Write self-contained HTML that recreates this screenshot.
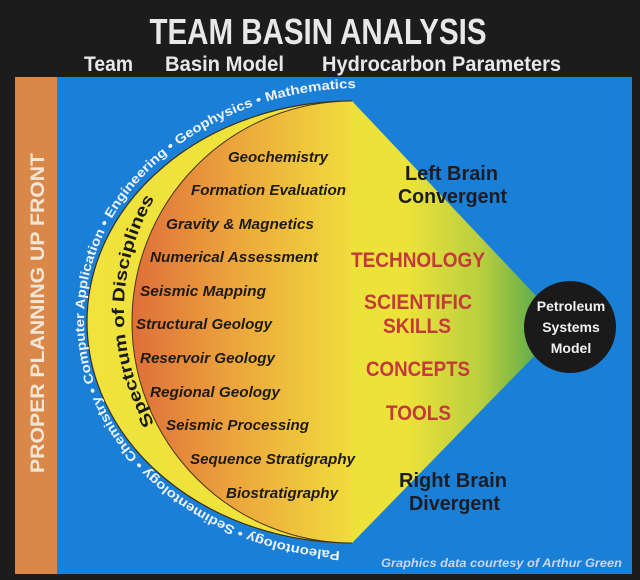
<!DOCTYPE html>
<html><head><meta charset="utf-8"><style>
html,body{margin:0;padding:0;background:#1c1c1c;}
svg{display:block;}
text{font-family:"Liberation Sans",sans-serif;font-weight:bold;}
</style></head><body>
<svg width="640" height="580" viewBox="0 0 640 580" xmlns="http://www.w3.org/2000/svg">
<defs>
<linearGradient id="yg" x1="0" y1="0" x2="1" y2="0" gradientUnits="objectBoundingBox">
<stop offset="0" stop-color="#f1e23c"/>
<stop offset="0.7" stop-color="#ece23a"/>
<stop offset="0.86" stop-color="#b9cf3e"/>
<stop offset="1" stop-color="#55a84c"/>
</linearGradient>
<linearGradient id="og" x1="130" y1="0" x2="360" y2="0" gradientUnits="userSpaceOnUse">
<stop offset="0" stop-color="#de6d3a"/>
<stop offset="0.45" stop-color="#eca53c"/>
<stop offset="1" stop-color="#f1e03c"/>
</linearGradient>
<path id="outerP" d="M360,552 A276,232 0 0 1 360,88"/>
<path id="specP" d="M352,536 A228,225 0 0 1 352,86"/>
</defs>
<rect width="640" height="580" fill="#1c1c1c"/>
<rect x="15" y="77" width="617" height="497" fill="#1a7fd6"/>
<rect x="15" y="77" width="42" height="497" fill="#d9884a"/>
<text transform="translate(44,313) rotate(-90)" text-anchor="middle" font-size="19" fill="#f3e6d6" textLength="320" lengthAdjust="spacingAndGlyphs">PROPER PLANNING UP FRONT</text>

<text x="318" y="44" text-anchor="middle" font-size="36" fill="#e8e8e8" textLength="337" lengthAdjust="spacingAndGlyphs">TEAM BASIN ANALYSIS</text>
<text x="84" y="71" font-size="21" fill="#e8e8e8" textLength="49" lengthAdjust="spacingAndGlyphs">Team</text>
<text x="165" y="71" font-size="21" fill="#e8e8e8" textLength="119" lengthAdjust="spacingAndGlyphs">Basin Model</text>
<text x="322" y="71" font-size="21" fill="#e8e8e8" textLength="239" lengthAdjust="spacingAndGlyphs">Hydrocarbon Parameters</text>

<path d="M352,101 L540,300 L545,345 L352,543 A265,221 0 0 1 352,101 Z" fill="url(#yg)"/>
<path d="M352,543 A265,221 0 0 1 352,101" fill="none" stroke="#3a3020" stroke-width="1.2"/>
<path d="M352,101 A220,221 0 0 0 352,543 Z" fill="url(#og)"/>
<path d="M352,101 A220,221 0 0 0 352,543" fill="none" stroke="#4a3518" stroke-width="1"/>

<circle cx="570" cy="327" r="46" fill="#1a1a1a"/>
<g font-size="14" fill="#f0f0f0" text-anchor="middle">
<text x="571" y="311">Petroleum</text>
<text x="571" y="332">Systems</text>
<text x="571" y="353">Model</text>
</g>

<text font-size="13" fill="#eef2fa"><textPath href="#outerP" startOffset="20" textLength="775" lengthAdjust="spacingAndGlyphs">Paleontology • Sedimentology • Chemistry • Computer Application • Engineering • Geophysics • Mathematics</textPath></text>

<text font-size="17" fill="#1a1a1a" text-anchor="middle"><textPath href="#specP" startOffset="50%" textLength="236" lengthAdjust="spacingAndGlyphs">Spectrum of Disciplines</textPath></text>

<g font-size="15" font-style="italic" fill="#1e1a14">
<text x="228" y="162" textLength="100" lengthAdjust="spacingAndGlyphs">Geochemistry</text>
<text x="191" y="195" textLength="155" lengthAdjust="spacingAndGlyphs">Formation Evaluation</text>
<text x="166" y="229" textLength="148" lengthAdjust="spacingAndGlyphs">Gravity &amp; Magnetics</text>
<text x="150" y="262" textLength="168" lengthAdjust="spacingAndGlyphs">Numerical Assessment</text>
<text x="140" y="296" textLength="126" lengthAdjust="spacingAndGlyphs">Seismic Mapping</text>
<text x="136" y="329" textLength="136" lengthAdjust="spacingAndGlyphs">Structural Geology</text>
<text x="140" y="363" textLength="135" lengthAdjust="spacingAndGlyphs">Reservoir Geology</text>
<text x="150" y="397" textLength="130" lengthAdjust="spacingAndGlyphs">Regional Geology</text>
<text x="166" y="430" textLength="143" lengthAdjust="spacingAndGlyphs">Seismic Processing</text>
<text x="190" y="464" textLength="165" lengthAdjust="spacingAndGlyphs">Sequence Stratigraphy</text>
<text x="226" y="498" textLength="112" lengthAdjust="spacingAndGlyphs">Biostratigraphy</text>
</g>

<g font-size="20" fill="#1c1c24">
<text x="405" y="180" textLength="93" lengthAdjust="spacingAndGlyphs">Left Brain</text>
<text x="398" y="203" textLength="109" lengthAdjust="spacingAndGlyphs">Convergent</text>
<text x="399" y="487" textLength="108" lengthAdjust="spacingAndGlyphs">Right Brain</text>
<text x="409" y="510" textLength="91" lengthAdjust="spacingAndGlyphs">Divergent</text>
</g>
<g font-size="21" fill="#c23a3a">
<text x="351" y="267" textLength="134" lengthAdjust="spacingAndGlyphs">TECHNOLOGY</text>
<text x="364" y="309" textLength="108" lengthAdjust="spacingAndGlyphs">SCIENTIFIC</text>
<text x="383" y="333" textLength="68" lengthAdjust="spacingAndGlyphs">SKILLS</text>
<text x="366" y="376" textLength="104" lengthAdjust="spacingAndGlyphs">CONCEPTS</text>
<text x="386" y="420" textLength="65" lengthAdjust="spacingAndGlyphs">TOOLS</text>
</g>
<text x="381" y="567" font-size="12" font-weight="normal" font-style="italic" fill="#c9d6ee" textLength="241" lengthAdjust="spacingAndGlyphs">Graphics data courtesy of Arthur Green</text>
</svg>
</body></html>
